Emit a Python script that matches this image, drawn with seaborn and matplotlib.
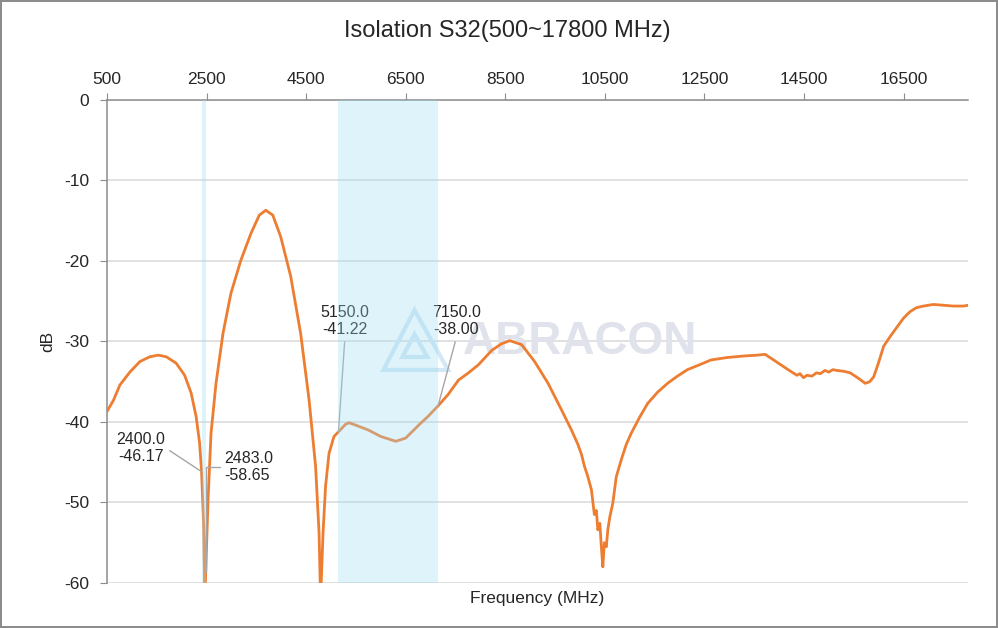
import numpy as np
import pandas as pd
import matplotlib
matplotlib.use("Agg")
import matplotlib.pyplot as plt
from matplotlib.patches import Polygon
import seaborn as sns

# values (MHz, dB)
freq_mhz = [500, 630, 760, 960, 1160, 1360, 1530, 1690, 1890, 2060, 2190, 2290, 2360,
            2400, 2440, 2465, 2483, 2530, 2590, 2690, 2830, 2990, 3190, 3390, 3560,
            3690, 3830, 3990, 4190, 4390, 4560, 4690, 4760, 4790, 4840, 4890, 4960,
            5060, 5150, 5290, 5360, 5500, 5750, 6000, 6150, 6300, 6500, 6760, 6950,
            7150, 7350, 7560, 7760, 7960, 8230, 8420, 8590, 8830, 9090, 9360, 9630,
            9830, 9960, 10030, 10090, 10150, 10230, 10290, 10330, 10360, 10400,
            10430, 10460, 10490, 10530, 10560, 10600, 10660, 10730, 10830, 10930,
            11030, 11200, 11360, 11560, 11760, 11960, 12160, 12400, 12630, 12950,
            13300, 13560, 13720, 13890, 14060, 14230, 14360, 14420, 14490, 14560,
            14660, 14750, 14830, 14920, 15000, 15080, 15160, 15300, 15430, 15600,
            15730, 15820, 15900, 16000, 16100, 16230, 16370, 16500, 16630, 16760,
            16900, 17100, 17300, 17500, 17700, 17800]
s32_db = [-38.7, -37.3, -35.4, -33.8, -32.5, -31.9, -31.7, -31.9, -32.7, -34.2,
          -36.4, -39.3, -42.6, -46.17, -52.6, -62.0, -58.65, -49.7, -41.4, -35.2,
          -29.0, -24.0, -19.9, -16.6, -14.3, -13.7, -14.3, -17.0, -21.9, -29.0,
          -37.3, -45.5, -53.8, -62.0, -53.8, -48.0, -43.9, -41.8, -41.22, -40.3,
          -40.1, -40.4, -41.0, -41.8, -42.1, -42.4, -42.0, -40.4, -39.3, -38.0,
          -36.6, -34.8, -33.9, -32.9, -31.1, -30.3, -29.9, -30.4, -32.5, -35.2,
          -38.5, -41.0, -42.8, -44.0, -45.5, -46.6, -48.4, -51.5, -51.0, -53.4,
          -52.6, -55.5, -58.0, -55.0, -55.5, -53.4, -51.8, -50.1, -46.8,
          -44.7, -42.8, -41.4, -39.4, -37.7, -36.3, -35.2, -34.3, -33.5, -32.9,
          -32.3, -32.0, -31.8, -31.7, -31.6, -32.3, -33.0, -33.7, -34.2, -34.0,
          -34.5, -34.2, -34.3, -33.9, -34.0, -33.6, -33.8, -33.5, -33.6, -33.7,
          -33.9, -34.6, -35.2, -35.0, -34.4, -32.6, -30.6, -29.4, -28.2, -27.1,
          -26.3, -25.8, -25.6, -25.4, -25.5, -25.6, -25.6, -25.5]

bands = [(2400, 2483), (5150, 7150)]
marker_freq = [2400.0, 2483.0, 5150.0, 7150.0]
marker_db = [-46.17, -58.65, -41.22, -38.00]
label_pos = [(1180, -43.2), (2860, -45.6), (5280, -27.5), (7520, -27.5)]
label_ha = ["center", "left", "center", "center"]
label_rel = [(1.0, 0.5), (0.0, 0.5), (0.5, 0.0), (0.5, 0.0)]
label_conn = ["arc3", "angle,angleA=0,angleB=90,rad=0", "arc3", "arc3"]

x_ticks = list(range(500, 17000, 2000))
y_ticks = list(range(-60, 1, 10))

df = pd.DataFrame({"freq": freq_mhz, "db": s32_db})

sns.set_style("white")
plt.rcParams["font.family"] = ["Liberation Sans", "DejaVu Sans"]
plt.rcParams["axes.unicode_minus"] = False

fig = plt.figure(figsize=(9.98, 6.28), dpi=100, edgecolor="#8c8c8c", linewidth=1.5)
ax = fig.add_axes([0.1072, 0.0717, 0.863, 0.7691])

sns.lineplot(data=df, x="freq", y="db", ax=ax, color="#ED7D31", linewidth=2.0, zorder=3)

# frequency bands drawn on top, translucent like the original
for lo, hi in bands:
    ax.axvspan(lo, hi, color="#9fdcf5", alpha=0.33, lw=0, zorder=4)

ax.set_xlim(500, 17800)
ax.set_ylim(-60, 0)
ax.set_xticks(x_ticks)
ax.set_yticks(y_ticks)
ax.xaxis.tick_top()
ax.xaxis.set_label_position("bottom")
ax.tick_params(axis="x", top=True, bottom=False, direction="out", length=5,
               color="#8c8c8c", labelsize=12.5, pad=4)
ax.tick_params(axis="y", left=True, direction="out", length=5,
               color="#8c8c8c", labelsize=12.5, pad=8)
ax.yaxis.grid(True, color="#d9d9d9", linewidth=1.1, zorder=0)
ax.xaxis.grid(False)
for side in ["right", "bottom"]:
    ax.spines[side].set_visible(False)
for side in ["top", "left"]:
    ax.spines[side].set_color("#8c8c8c")
    ax.spines[side].set_linewidth(1.1)

ax.set_xlabel("Frequency (MHz)", fontsize=12.5, labelpad=6)
ax.set_ylabel("dB", fontsize=12.5, labelpad=6)
fig.text(0.508, 0.951, "Isolation S32(500~17800 MHz)", ha="center", va="center",
         fontsize=17)

# watermark
ax.text(0.549, 0.499, "ABRACON", transform=ax.transAxes, fontsize=33,
        fontweight="bold", color="#e0e3eb", ha="center", va="center", zorder=2)
for tri_pts in ([[0.321, 0.441], [0.357, 0.565], [0.396, 0.441]],
                [[0.343, 0.468], [0.357, 0.515], [0.372, 0.468]]):
    ax.add_patch(Polygon(tri_pts, closed=True, fill=False, edgecolor="#d3e8f6",
                         linewidth=3, transform=ax.transAxes, zorder=2))

# data labels with leader lines
for fx, fy, (tx, ty), ha, rel, conn in zip(marker_freq, marker_db, label_pos,
                                           label_ha, label_rel, label_conn):
    ax.annotate(f"{fx:.1f}\n{fy:.2f}", xy=(fx, fy), xytext=(tx, ty),
                ha=ha, va="center", fontsize=11.5, linespacing=1.15, zorder=3.5,
                arrowprops=dict(arrowstyle="-", color="#a6a6a6", lw=1,
                                shrinkA=1, shrinkB=0, relpos=rel,
                                connectionstyle=conn))

fig.savefig("out.png", dpi=100)
plt.close(fig)
